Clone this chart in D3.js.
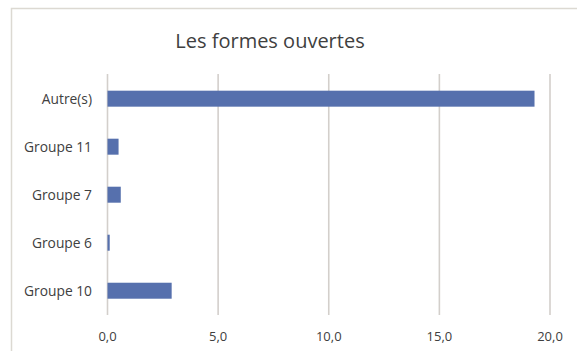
<!DOCTYPE html>
<html><head><meta charset="utf-8">
<script src="https://cdn.jsdelivr.net/npm/d3@7"></script>
<style>html,body{margin:0;padding:0;background:#fff;}</style>
</head><body>
<svg id="c" width="577" height="351"></svg>
<script>
const title = "Les formes ouvertes";
const categories = ["Autre(s)", "Groupe 11", "Groupe 7", "Groupe 6", "Groupe 10"];
const values = [19.3, 0.5, 0.6, 0.1, 2.9];
const tickValues = [0, 5, 10, 15, 20];

const svg = d3.select("#c");
const font = "'Open Sans', 'Noto Sans', sans-serif";
// chart frame
svg.append("rect").attr("x", 11.5).attr("y", 8.5).attr("width", 575).attr("height", 360)
  .attr("fill", "#fff").attr("stroke", "#dcd9d2").attr("stroke-width", 1.5);

const x = d3.scaleLinear().domain([0, 20]).range([107.5, 550]);
const y = d3.scaleBand().domain(categories).range([74.7, 314.7]).paddingInner(0.667).paddingOuter(0.333);

// gridlines
svg.append("g").selectAll("line").data(tickValues).join("line")
  .attr("x1", d => x(d)).attr("x2", d => x(d))
  .attr("y1", 74).attr("y2", 315)
  .attr("stroke", "#d3cfcb").attr("stroke-width", 1.6);

// bars
svg.append("g").selectAll("rect").data(values).join("rect")
  .attr("x", x(0)).attr("y", (d, i) => y(categories[i]))
  .attr("width", d => x(d) - x(0)).attr("height", y.bandwidth())
  .attr("fill", "#5670ad");

// category labels
svg.append("g").selectAll("text").data(categories).join("text")
  .attr("x", 92).attr("y", d => y(d) + y.bandwidth() / 2)
  .attr("dy", "0.35em").attr("text-anchor", "end")
  .attr("font-family", font).attr("font-size", 13.8).attr("fill", "#404040")
  .text(d => d);

// tick labels
svg.append("g").selectAll("text").data(tickValues).join("text")
  .attr("x", d => x(d)).attr("y", 336).attr("dy", "0.35em").attr("text-anchor", "middle")
  .attr("font-family", font).attr("font-size", 13).attr("fill", "#404040")
  .text(d => d3.format(".1f")(d).replace(".", ","));

// title
svg.append("text").attr("x", 270).attr("y", 48).attr("text-anchor", "middle")
  .attr("font-family", font).attr("font-size", 20).attr("fill", "#404040")
  .text(title);
</script>
</body></html>
